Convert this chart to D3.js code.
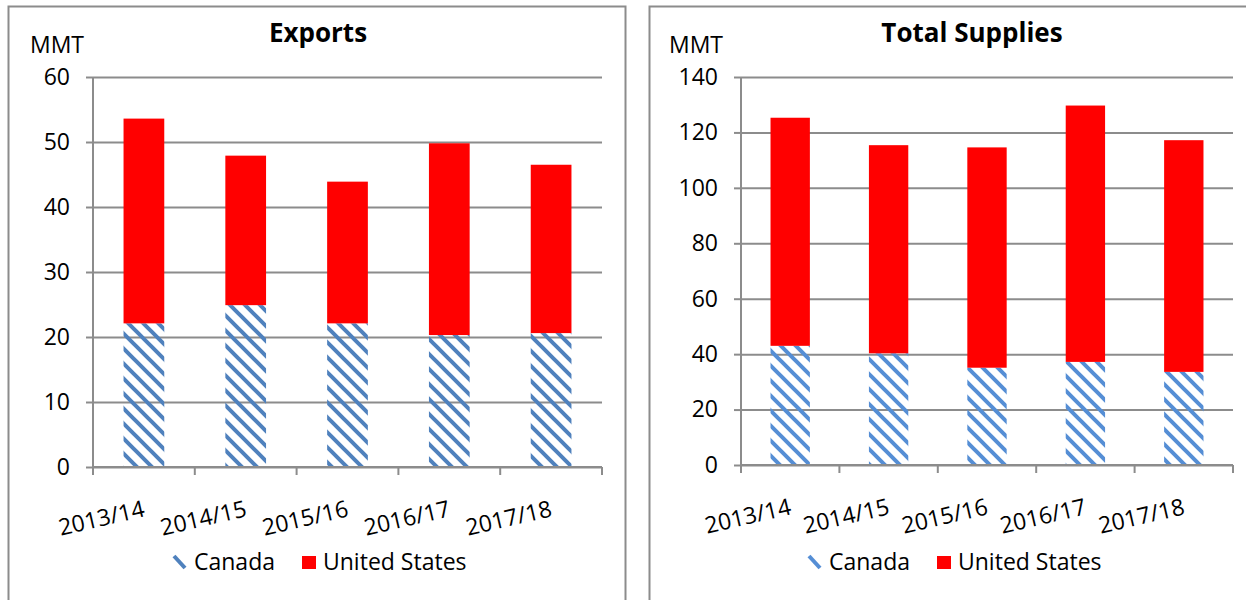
<!DOCTYPE html>
<html>
<head>
<meta charset="utf-8">
<script src="https://cdn.jsdelivr.net/npm/d3@7"></script>
<style>
  body { margin: 0; background: #fff; }
  svg { display: block; font-family: "Open Sans", Lato, sans-serif; }
</style>
</head>
<body>
<svg id="chart" width="1246" height="600"></svg>
<script>
'use strict';

// data
const categories = ['2013/14', '2014/15', '2015/16', '2016/17', '2017/18'];
const seriesNames = ['Canada', 'United States'];

const exportsCanada = [22.1, 24.9, 22.1, 20.3, 20.6];
const exportsUS = [31.5, 23.0, 21.8, 29.5, 25.9];
const exportsTicks = [0, 10, 20, 30, 40, 50, 60];

const suppliesCanada = [43.0, 40.3, 35.1, 37.2, 33.6];
const suppliesUS = [82.3, 75.1, 79.5, 92.5, 83.6];
const suppliesTicks = [0, 20, 40, 60, 80, 100, 120, 140];

const FONT = 23;
const svg = d3.select('#chart');
const defs = svg.append('defs');

// diagonal hatch used for Canada
function addHatch(id, color){
    const p = defs.append('pattern')
        .attr('id', id)
        .attr('patternUnits', 'userSpaceOnUse')
        .attr('width', 15)
        .attr('height', 15);
    p.append('path')
        .attr('d', 'M-3,-3L18,18M-3,12L3,18M12,-3L18,3')
        .attr('stroke', color)
        .attr('stroke-width', 4)
        .attr('fill', 'none');
}

function drawChart(cfg){
    const g = svg.append('g');

    // outer frame
    g.append('rect')
        .attr('x', cfg.frameX + 0.5).attr('y', 6.5)
        .attr('width', cfg.frameW).attr('height', 700)
        .attr('fill', 'none')
        .attr('stroke', '#8c8c8c')
        .attr('stroke-width', 2);

    const x = d3.scaleBand()
        .domain(categories)
        .range([cfg.x0, cfg.x1])
        .paddingInner(0.6)
        .paddingOuter(0.3);

    const y = d3.scaleLinear()
        .domain([0, cfg.ticks[cfg.ticks.length - 1]])
        .range([cfg.y1, cfg.y0]);

    // gridlines + y labels
    const yAxis = g.append('g')
        .attr('transform', `translate(${cfg.x0},0)`)
        .call(d3.axisLeft(y).tickValues(cfg.ticks).tickSize(7).tickPadding(16))
        .call(a => a.select('.domain').remove());
    yAxis.selectAll('.tick line').attr('stroke', '#8c8c8c').attr('stroke-width', 2);
    yAxis.selectAll('.tick').append('line')
        .attr('x1', 0).attr('x2', cfg.x1 - cfg.x0)
        .attr('stroke', '#8c8c8c').attr('stroke-width', 2);
    yAxis.selectAll('.tick text')
        .attr('font-size', FONT).attr('fill', '#000')
        .attr('font-family', '"Open Sans", sans-serif');

    // stacked bars
    const rows = categories.map((c, i) => ({cat: c, canada: cfg.canada[i], us: cfg.us[i]}));
    const stack = d3.stack().keys(['canada', 'us'])(rows);
    const fills = [`url(#${cfg.hatchId})`, '#ff0000'];

    g.selectAll('g.series')
        .data(stack)
        .enter()
        .append('g')
        .attr('fill', (d, i) => fills[i])
        .selectAll('rect')
        .data(d => d)
        .enter()
        .append('rect')
        .attr('x', d => x(d.data.cat))
        .attr('width', x.bandwidth())
        .attr('y', d => y(d[1]))
        .attr('height', d => y(d[0]) - y(d[1]));

    // y axis line
    g.append('line')
        .attr('x1', cfg.x0).attr('x2', cfg.x0)
        .attr('y1', cfg.y0).attr('y2', cfg.y1)
        .attr('stroke', '#8c8c8c').attr('stroke-width', 2);

    // x axis with ticks between categories
    const step = x.step();
    const bounds = d3.range(categories.length + 1).map(i => cfg.x0 + i * step);
    g.append('line')
        .attr('x1', cfg.x0).attr('x2', cfg.x1)
        .attr('y1', cfg.y1).attr('y2', cfg.y1)
        .attr('stroke', '#8c8c8c').attr('stroke-width', 2);
    g.selectAll('line.xtick')
        .data(bounds)
        .enter()
        .append('line')
        .attr('class', 'xtick')
        .attr('x1', d => d).attr('x2', d => d)
        .attr('y1', cfg.y1).attr('y2', cfg.y1 + 8)
        .attr('stroke', '#8c8c8c').attr('stroke-width', 2);

    // slanted category labels
    g.selectAll('text.xlab')
        .data(categories)
        .enter()
        .append('text')
        .attr('class', 'xlab')
        .attr('text-anchor', 'end')
        .attr('font-size', FONT)
        .attr('transform', d => `translate(${x(d) + x.bandwidth() / 2 + 2},${cfg.y1 + 49}) rotate(-13)`)
        .text(d => d);

    // title and unit
    g.append('text')
        .attr('x', cfg.titleX).attr('y', 42)
        .attr('text-anchor', 'middle')
        .attr('font-size', 26).attr('font-weight', 'bold')
        .text(cfg.title);
    g.append('text')
        .attr('x', cfg.mmtX).attr('y', 53)
        .attr('font-size', FONT)
        .text('MMT');

    // legend
    const lg = g.append('g').attr('transform', `translate(${cfg.legendX},0)`);
    lg.append('line')
        .attr('x1', 1).attr('y1', 556).attr('x2', 12).attr('y2', 568)
        .attr('stroke', cfg.hatchColor).attr('stroke-width', 4);
    lg.append('text').attr('x', 21).attr('y', 570).attr('font-size', FONT).text(seriesNames[0]);
    lg.append('rect')
        .attr('x', 129).attr('y', 556).attr('width', 14).attr('height', 13)
        .attr('fill', '#ff0000');
    lg.append('text').attr('x', 150).attr('y', 570).attr('font-size', FONT).text(seriesNames[1]);
}

addHatch('hatchL', '#4f81bd');
addHatch('hatchR', '#558ed5');

drawChart({
    title: 'Exports', canada: exportsCanada, us: exportsUS, ticks: exportsTicks,
    frameX: 8, frameW: 617, x0: 93, x1: 602, y0: 77, y1: 467,
    titleX: 318, mmtX: 30, legendX: 173, hatchId: 'hatchL', hatchColor: '#4f81bd'
});

drawChart({
    title: 'Total Supplies', canada: suppliesCanada, us: suppliesUS, ticks: suppliesTicks,
    frameX: 649, frameW: 700, x0: 741, x1: 1233, y0: 77, y1: 465,
    titleX: 972, mmtX: 669, legendX: 808, hatchId: 'hatchR', hatchColor: '#558ed5'
});
</script>
</body>
</html>
